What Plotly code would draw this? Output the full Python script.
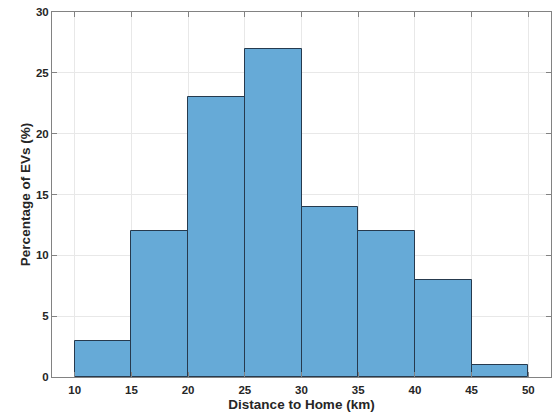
import plotly.graph_objects as go

bin_edges = [10, 15, 20, 25, 30, 35, 40, 45, 50]
percentages = [3, 12, 23, 27, 14, 12, 8, 1]
x_ticks = [10, 15, 20, 25, 30, 35, 40, 45, 50]
y_ticks = [0, 5, 10, 15, 20, 25, 30]

centers = [(a + b) / 2 for a, b in zip(bin_edges[:-1], bin_edges[1:])]
widths = [b - a for a, b in zip(bin_edges[:-1], bin_edges[1:])]

fig = go.Figure(go.Bar(
    x=centers, y=percentages, width=widths,
    marker=dict(color="rgb(102,170,215)", line=dict(color="rgb(38,58,78)", width=1)),
    hoverinfo="skip",
))

font_family = "Liberation Sans, Arial, Helvetica, sans-serif"
axis_common = dict(
    showline=True, linecolor="rgb(130,130,130)", linewidth=1, mirror="ticks",
    ticks="inside", ticklen=5, tickcolor="rgb(130,130,130)", tickwidth=1,
    showgrid=True, gridcolor="rgb(232,232,232)", gridwidth=1, zeroline=False,
    automargin=False,
    tickfont=dict(family=font_family, size=11.5, color="rgb(38,38,38)", weight="bold"),
)

fig.update_layout(
    width=558, height=417,
    margin=dict(l=52, r=7, t=12, b=40),
    plot_bgcolor="white", paper_bgcolor="white",
    showlegend=False,
    bargap=0,
    xaxis=dict(range=[8, 52], tickvals=x_ticks, ticklabelstandoff=2,
               title=dict(text="<b>Distance to Home (km)</b>", standoff=4,
                          font=dict(family=font_family, size=13.5, color="rgb(38,38,38)")),
               **axis_common),
    yaxis=dict(range=[0, 30], tickvals=y_ticks,
               title=dict(text="<b>Percentage of EVs (%)</b>", standoff=2,
                          font=dict(family=font_family, size=13.5, color="rgb(38,38,38)")),
               **axis_common),
)

fig.write_html("out.html", config={"displayModeBar": False},
               post_script="document.body.style.margin='0px';")
